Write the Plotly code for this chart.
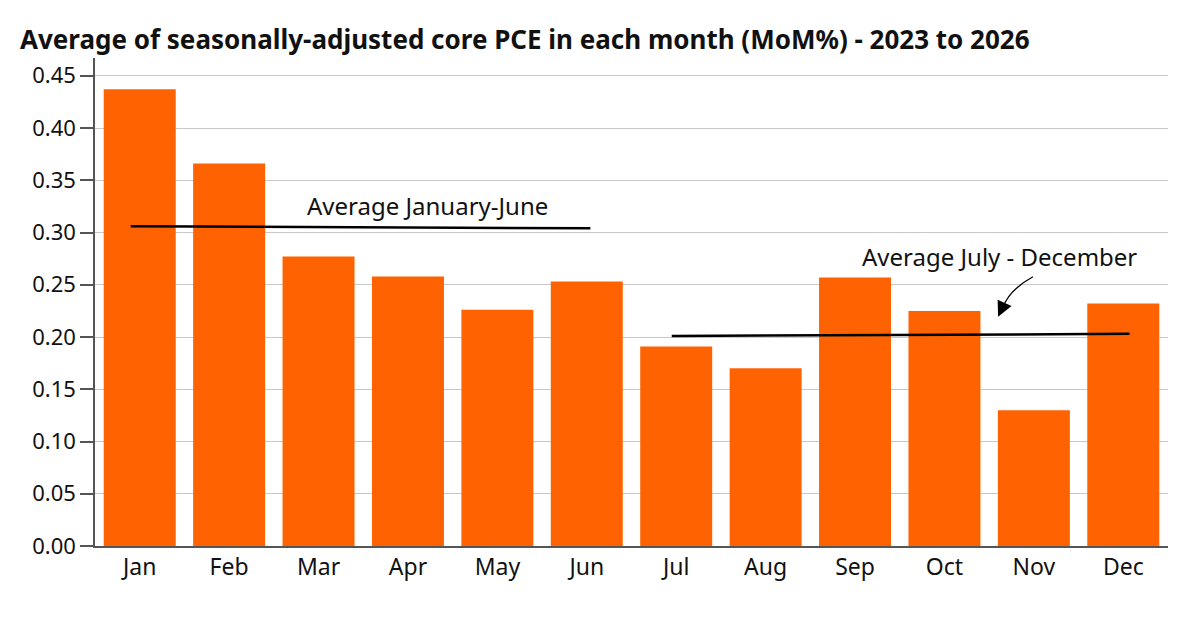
import plotly.graph_objects as go

months = ["Jan", "Feb", "Mar", "Apr", "May", "Jun", "Jul", "Aug", "Sep", "Oct", "Nov", "Dec"]
values = [0.437, 0.366, 0.277, 0.258, 0.226, 0.253, 0.191, 0.170, 0.257, 0.225, 0.130, 0.232]

avg_h1_x = [-0.1, 5.04]
avg_h1_y = [0.306, 0.304]
avg_h2_x = [5.95, 11.07]
avg_h2_y = [0.201, 0.203]

y_ticks = [0.00, 0.05, 0.10, 0.15, 0.20, 0.25, 0.30, 0.35, 0.40, 0.45]

FONT = "Noto Sans"
ORANGE = "#FF6200"

fig = go.Figure()
fig.add_trace(go.Bar(x=list(range(12)), y=values, marker=dict(color=ORANGE, line=dict(width=0)),
                     width=0.805, showlegend=False, hoverinfo="y"))
fig.add_trace(go.Scatter(x=avg_h1_x, y=avg_h1_y, mode="lines", line=dict(color="black", width=2.5),
                         showlegend=False, hoverinfo="skip"))
fig.add_trace(go.Scatter(x=avg_h2_x, y=avg_h2_y, mode="lines", line=dict(color="black", width=2.5),
                         showlegend=False, hoverinfo="skip"))

# curved arrow stem
fig.add_shape(type="path", xref="x", yref="y",
              path="M 9.99 0.2576 Q 9.72 0.245 9.65 0.2275",
              line=dict(color="black", width=1.2))
# arrow head
fig.add_annotation(x=9.60, y=0.2193, ax=9.65, ay=0.2285, xref="x", yref="y", axref="x", ayref="y",
                   text="", showarrow=True, arrowhead=2, arrowsize=2.2, arrowwidth=1.4, arrowcolor="black")

fig.add_annotation(x=3.22, y=0.326, xref="x", yref="y", text="Average January-June", showarrow=False,
                   font=dict(family=FONT, size=24, color="#111"))
fig.add_annotation(x=9.62, y=0.277, xref="x", yref="y", text="Average July - December", showarrow=False,
                   font=dict(family=FONT, size=24, color="#111"))

fig.update_layout(
    width=1200, height=617,
    margin=dict(l=95, r=32, t=58, b=71),
    plot_bgcolor="white", paper_bgcolor="white",
    font=dict(family=FONT, size=21, color="#111"),
    bargap=0.195,
    title=dict(text="<b>Average of seasonally-adjusted core PCE in each month (MoM%) - 2023 to 2026</b>",
               x=20/1200, xanchor="left", xref="container", y=1 - 40/617, yanchor="middle",
               yref="container",
               font=dict(family=FONT, size=26, color="#111")),
    xaxis=dict(tickmode="array", tickvals=list(range(12)), ticktext=months, range=[-0.5, 11.5],
               showgrid=False, showline=True, linecolor="#555", linewidth=1.5, ticks="",
               tickfont=dict(size=23), zeroline=False),
    yaxis=dict(range=[0, 0.467], tickmode="array", tickvals=y_ticks,
               ticktext=[f"{v:.2f}" for v in y_ticks],
               showgrid=True, gridcolor="#c8c8c8", gridwidth=1.2,
               showline=True, linecolor="#555", linewidth=1.5,
               ticks="outside", ticklen=13, tickcolor="#555", tickwidth=1.5,
               tickfont=dict(size=22), zeroline=False),
)

fig.write_html("out.html")
